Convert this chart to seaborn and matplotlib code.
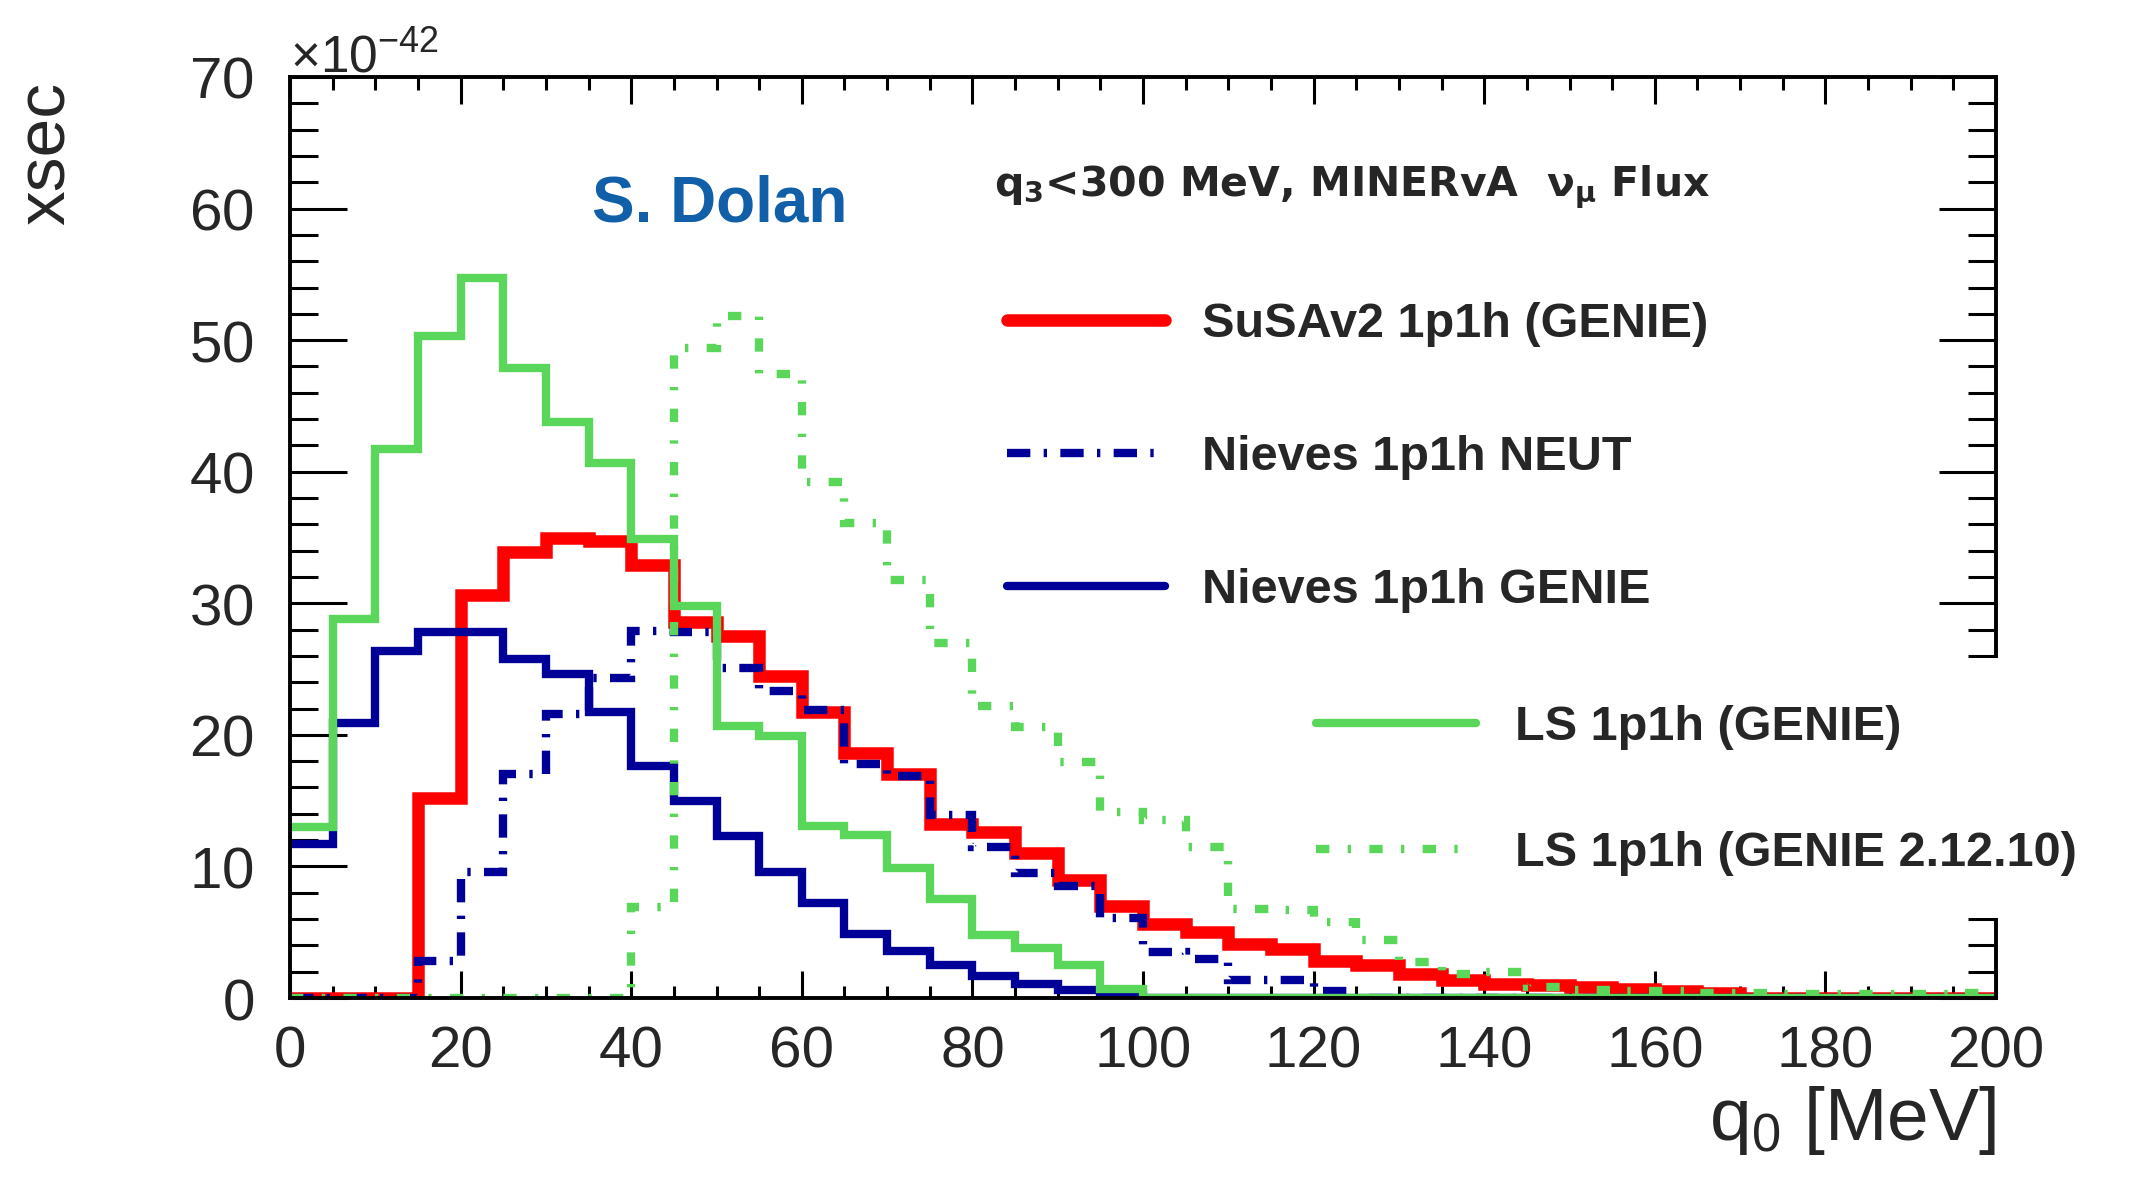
import numpy as np
import pandas as pd
import matplotlib
matplotlib.use("Agg")
import matplotlib.pyplot as plt
from matplotlib.ticker import MultipleLocator
from matplotlib.patches import Rectangle
import seaborn as sns

# ---------------- data (cross-section in units of 1e-42) ----------------
q0_edges = list(range(0, 205, 5))          # 40 bins of 5 MeV
SCALE = 1e-42

susav2_genie = [0, 0, 0, 15.2, 30.6, 33.9, 35.0, 34.7, 32.9, 28.6,
                27.5, 24.5, 21.7, 18.6, 17.0, 13.2, 12.6, 11.0, 9.0, 7.0,
                5.6, 5.0, 4.1, 3.7, 2.8, 2.5, 1.8, 1.4, 1.1, 1.0,
                0.85, 0.7, 0.5, 0.4, 0, 0, 0, 0, 0, 0]
nieves_neut = [0, 0, 0, 2.8, 9.6, 17.0, 21.6, 24.3, 27.9, 27.8,
               25.1, 23.3, 21.9, 17.8, 16.9, 13.9, 11.5, 9.5, 8.5, 6.1,
               3.5, 3.0, 1.4, 1.4, 0.5, 0, 0, 0, 0, 0,
               0, 0, 0, 0, 0, 0, 0, 0, 0, 0]
nieves_genie = [11.7, 20.9, 26.4, 27.8, 27.8, 25.8, 24.6, 21.7, 17.6, 15.0,
                12.3, 9.6, 7.2, 4.9, 3.6, 2.5, 1.7, 1.1, 0.6, 0.2,
                0, 0, 0, 0, 0, 0, 0, 0, 0, 0,
                0, 0, 0, 0, 0, 0, 0, 0, 0, 0]
ls_genie = [13.0, 28.8, 41.7, 50.3, 54.7, 47.9, 43.8, 40.7, 34.9, 29.8,
            20.7, 19.9, 13.1, 12.4, 9.9, 7.5, 4.8, 3.8, 2.5, 0.7,
            0, 0, 0, 0, 0, 0, 0, 0, 0, 0,
            0, 0, 0, 0, 0, 0, 0, 0, 0, 0]
ls_genie_21210 = [0, 0, 0, 0, 0, 0, 0, 0, 6.9, 49.4,
                  51.8, 47.4, 39.2, 36.1, 31.8, 27.0, 22.2, 20.6, 17.9, 14.1,
                  13.5, 11.5, 6.8, 6.7, 5.8, 4.4, 2.7, 1.8, 2.0, 0.8,
                  0.6, 0.5, 0.5, 0.4, 0.4, 0.3, 0.3, 0.3, 0.3, 0.4]

model_labels = ["SuSAv2 1p1h (GENIE)", "Nieves 1p1h NEUT", "Nieves 1p1h GENIE",
                "LS 1p1h (GENIE)", "LS 1p1h (GENIE 2.12.10)"]
model_values = [susav2_genie, nieves_neut, nieves_genie, ls_genie, ls_genie_21210]

# ---------------- styles ----------------
colors = ["#ff0000", "#000099", "#000099", "#5ad65a", "#5ad65a"]
widths = [9.0, 6.0, 6.0, 6.0, 6.0]
styles = ["-", (0, (2.8, 1.6, 0.4, 1.6)), "-", "-", (0, (1.6, 2.2, 0.4, 2.2))]

edges = np.array(q0_edges, dtype=float)
centers = 0.5 * (edges[:-1] + edges[1:])
frames = []
for lab, vals in zip(model_labels, model_values):
    frames.append(pd.DataFrame({"q0": centers,
                                "xsec": np.array(vals) * SCALE,
                                "model": lab}))
df = pd.concat(frames, ignore_index=True)

sns.set_style("ticks")
plt.rcParams["font.family"] = ["Liberation Sans", "DejaVu Sans"]
plt.rcParams["mathtext.fontset"] = "custom"
plt.rcParams["mathtext.rm"] = "Liberation Sans"
plt.rcParams["mathtext.it"] = "Liberation Sans:italic"
plt.rcParams["mathtext.bf"] = "Liberation Sans:bold"
plt.rcParams["mathtext.default"] = "regular"

W, H = 2143, 1179
fig = plt.figure(figsize=(W / 100, H / 100), dpi=100)
fig.patch.set_facecolor("white")
ax = fig.add_axes([290 / W, (H - 998) / H, 1706 / W, 921 / H])

handles = []
for lab, col, lw, ls in zip(model_labels, colors, widths, styles):
    sub = df[df["model"] == lab]
    sns.histplot(data=sub, x="q0", weights="xsec", bins=q0_edges,
                 element="step", fill=False, color=col, linewidth=lw,
                 linestyle=ls, ax=ax)
    ln = ax.lines[-1]
    ln.set_solid_joinstyle("miter")
    ln.set_dash_joinstyle("miter")
    handles.append(ln)

ax.set_xlim(0, 200)
ax.set_ylim(0, 70 * SCALE)

ax.xaxis.set_major_locator(MultipleLocator(20))
ax.xaxis.set_minor_locator(MultipleLocator(5))
ax.yaxis.set_major_locator(MultipleLocator(10 * SCALE))
ax.yaxis.set_minor_locator(MultipleLocator(2 * SCALE))
ax.ticklabel_format(axis="y", style="sci", scilimits=(-42, -42), useMathText=True)
ax.yaxis.get_offset_text().set_fontsize(37)

ax.tick_params(axis="both", which="both", direction="in", top=True, right=True,
               width=2.2, color="black")
ax.tick_params(axis="x", which="major", length=19.5, pad=20, labelsize=42)
ax.tick_params(axis="x", which="minor", length=9)
ax.tick_params(axis="y", which="major", length=41, pad=26, labelsize=42)
ax.tick_params(axis="y", which="minor", length=20)
for sp in ax.spines.values():
    sp.set_linewidth(2.8)
    sp.set_color("black")

ax.set_xlabel(r"q$_{0}$ [MeV]", fontsize=54, loc="right")
ax.xaxis.set_label_coords(1.0, -0.093)
ax.set_ylabel("xsec", fontsize=50, loc="top")
ax.yaxis.set_label_coords(-0.1237, 0.9946)

ax.text(0.177, 0.8426, "S. Dolan", transform=ax.transAxes, fontsize=46,
        fontweight="bold", color="#105fa8", va="baseline", ha="left")
ax.text(0.4124, 0.8700, r"q$_{3}$<300 MeV, MINERvA  ν$_{μ}$ Flux",
        transform=ax.transAxes, fontsize=29.5, fontweight="bold",
        family=["DejaVu Sans"], va="baseline", ha="left")

legend_font = {"family": "Liberation Sans", "weight": "bold", "size": 35}
leg1 = ax.legend(handles[:3], model_labels[:3], loc="upper left",
                 bbox_to_anchor=(1007 / W, (H - 302) / H), bbox_transform=fig.transFigure,
                 frameon=False, prop=legend_font, handlelength=3.25, handletextpad=0.76,
                 labelspacing=1.81, borderpad=0, borderaxespad=0)
ax.add_artist(leg1)
leg2 = ax.legend(handles[3:], model_labels[3:], loc="upper left",
                 bbox_to_anchor=(1316 / W, (H - 705) / H), bbox_transform=fig.transFigure,
                 frameon=False, prop=legend_font, handlelength=3.3, handletextpad=0.8,
                 labelspacing=1.67, borderpad=0, borderaxespad=0)

# white box behind the second legend (covers the frame, as in the original)
box = Rectangle((1318 / W, (H - 918) / H), (W - 1318) / W, 260 / H,
                transform=fig.transFigure, facecolor="white", edgecolor="none",
                zorder=4, clip_on=False)
ax.add_artist(box)

fig.savefig("out.png", dpi=100, facecolor="white")
